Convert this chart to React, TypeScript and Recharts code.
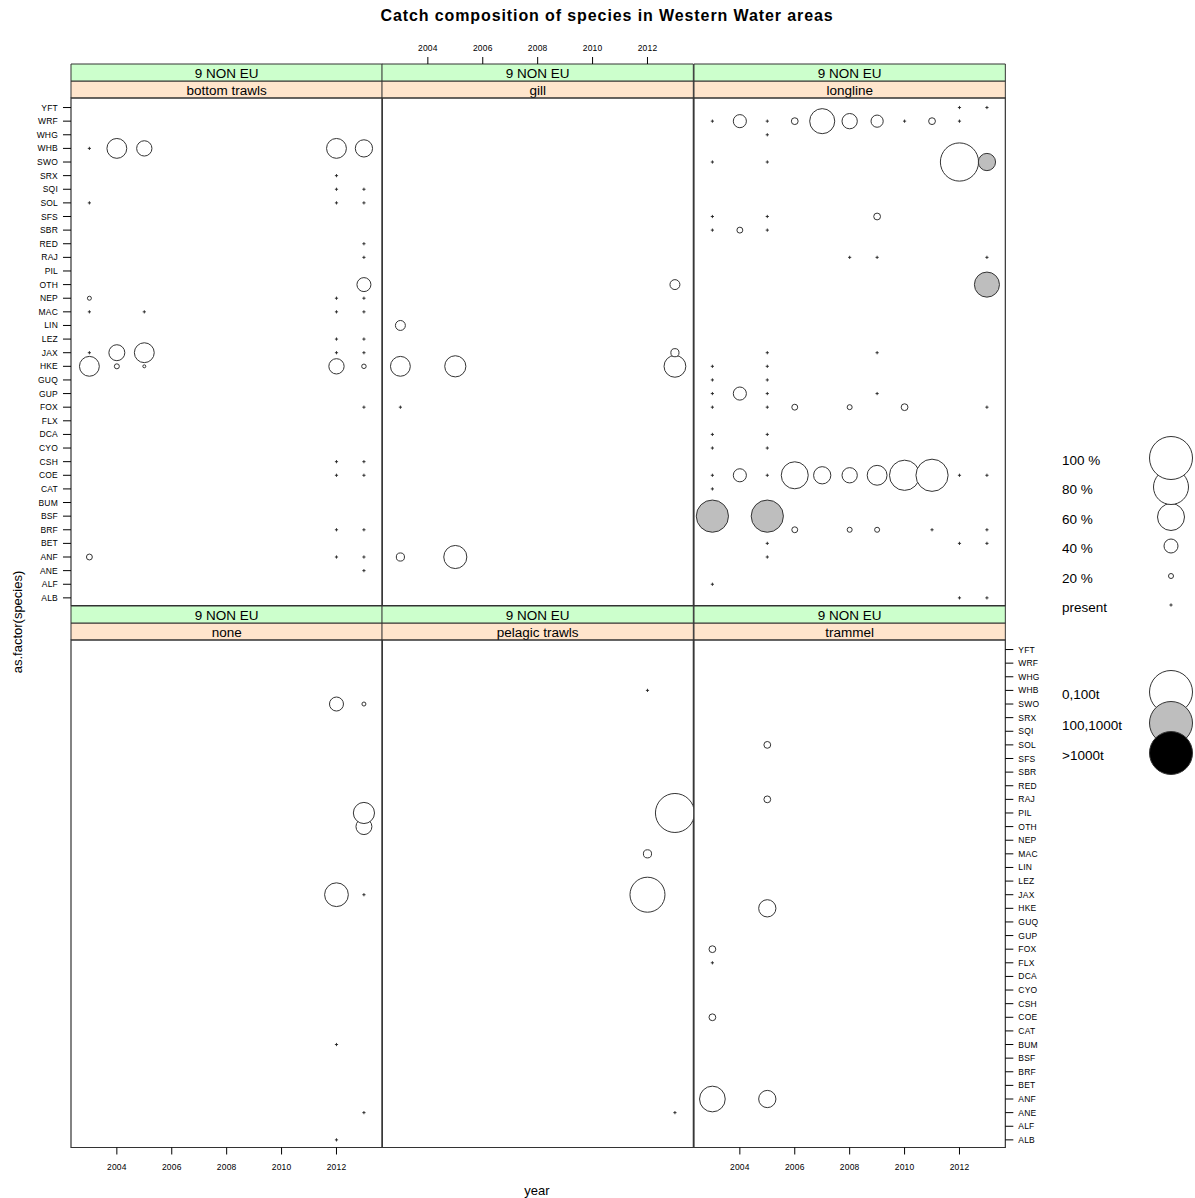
import React from 'react';
import { ScatterChart, Scatter, XAxis, YAxis, ReferenceArea } from 'recharts';

// species codes, bottom (1) to top (37)
const species = [
  'ALB', 'ALF', 'ANE', 'ANF', 'BET', 'BRF', 'BSF', 'BUM', 'CAT', 'COE', 'CSH', 'CYO', 'DCA',
  'FLX', 'FOX', 'GUP', 'GUQ', 'HKE', 'JAX', 'LEZ', 'LIN', 'MAC', 'NEP', 'OTH', 'PIL', 'RAJ',
  'RED', 'SBR', 'SFS', 'SOL', 'SQI', 'SRX', 'SWO', 'WHB', 'WHG', 'WRF', 'YFT',
];
const yearTicks = [2004, 2006, 2008, 2010, 2012];
const region = '9 NON EU';
const sizeLegend = [100, 80, 60, 40, 20];
const catchClasses = ['0,100t', '100,1000t', '>1000t'];

// [species, year, share of catch in %, catch class]  (share 0 = present)
type Obs = [string, number, number, number];

const bottomTrawls: Obs[] = [
  ['WHB', 2003, 0, 0], ['WHB', 2004, 49, 0], ['WHB', 2005, 42, 0], ['WHB', 2012, 49, 0], ['WHB', 2013, 45, 0],
  ['SRX', 2012, 0, 0],
  ['SQI', 2012, 0, 0], ['SQI', 2013, 0, 0],
  ['SOL', 2003, 0, 0], ['SOL', 2012, 0, 0], ['SOL', 2013, 0, 0],
  ['RED', 2013, 0, 0],
  ['RAJ', 2013, 0, 0],
  ['OTH', 2013, 40, 0],
  ['NEP', 2003, 16, 0], ['NEP', 2012, 0, 0], ['NEP', 2013, 0, 0],
  ['MAC', 2003, 0, 0], ['MAC', 2005, 0, 0], ['MAC', 2012, 0, 0], ['MAC', 2013, 0, 0],
  ['LEZ', 2012, 0, 0], ['LEZ', 2013, 0, 0],
  ['JAX', 2003, 0, 0], ['JAX', 2004, 43, 0], ['JAX', 2005, 49, 0], ['JAX', 2012, 0, 0], ['JAX', 2013, 0, 0],
  ['HKE', 2003, 49, 0], ['HKE', 2004, 20, 0], ['HKE', 2005, 12, 0], ['HKE', 2012, 42, 0], ['HKE', 2013, 18, 0],
  ['FOX', 2013, 0, 0],
  ['CSH', 2012, 0, 0], ['CSH', 2013, 0, 0],
  ['COE', 2012, 0, 0], ['COE', 2013, 0, 0],
  ['BRF', 2012, 0, 0], ['BRF', 2013, 0, 0],
  ['ANF', 2003, 22, 0], ['ANF', 2012, 0, 0], ['ANF', 2013, 0, 0],
  ['ANE', 2013, 0, 0],
];

const gill: Obs[] = [
  ['OTH', 2013, 31, 0],
  ['LIN', 2003, 31, 0],
  ['JAX', 2013, 27, 0],
  ['HKE', 2003, 49, 0], ['HKE', 2005, 51, 0], ['HKE', 2013, 52, 0],
  ['FOX', 2003, 0, 0],
  ['ANF', 2003, 27, 0], ['ANF', 2005, 54, 0],
];

const longline: Obs[] = [
  ['YFT', 2012, 0, 0], ['YFT', 2013, 0, 0],
  ['WRF', 2003, 0, 0], ['WRF', 2004, 38, 0], ['WRF', 2005, 0, 0], ['WRF', 2006, 24, 0], ['WRF', 2007, 57, 0],
  ['WRF', 2008, 42, 0], ['WRF', 2009, 36, 0], ['WRF', 2010, 0, 0], ['WRF', 2011, 24, 0], ['WRF', 2012, 0, 0],
  ['WHG', 2005, 0, 0],
  ['SWO', 2003, 0, 0], ['SWO', 2005, 0, 0], ['SWO', 2012, 88, 0], ['SWO', 2013, 45, 1],
  ['SFS', 2003, 0, 0], ['SFS', 2005, 0, 0], ['SFS', 2009, 24, 0],
  ['SBR', 2003, 0, 0], ['SBR', 2004, 22, 0], ['SBR', 2005, 0, 0],
  ['RAJ', 2008, 0, 0], ['RAJ', 2009, 0, 0], ['RAJ', 2013, 0, 0],
  ['OTH', 2013, 57, 1],
  ['JAX', 2005, 0, 0], ['JAX', 2009, 0, 0],
  ['HKE', 2003, 0, 0], ['HKE', 2005, 0, 0],
  ['GUQ', 2003, 0, 0], ['GUQ', 2005, 0, 0],
  ['GUP', 2003, 0, 0], ['GUP', 2004, 38, 0], ['GUP', 2005, 0, 0], ['GUP', 2009, 0, 0],
  ['FOX', 2003, 0, 0], ['FOX', 2005, 0, 0], ['FOX', 2006, 22, 0], ['FOX', 2008, 20, 0], ['FOX', 2010, 24, 0], ['FOX', 2013, 0, 0],
  ['DCA', 2003, 0, 0], ['DCA', 2005, 0, 0],
  ['CYO', 2003, 0, 0], ['CYO', 2005, 0, 0],
  ['COE', 2003, 0, 0], ['COE', 2004, 38, 0], ['COE', 2005, 0, 0], ['COE', 2006, 60, 0], ['COE', 2007, 45, 0],
  ['COE', 2008, 42, 0], ['COE', 2009, 49, 0], ['COE', 2010, 68, 0], ['COE', 2011, 73, 0], ['COE', 2012, 0, 0], ['COE', 2013, 0, 0],
  ['CAT', 2003, 0, 0],
  ['BSF', 2003, 73, 1], ['BSF', 2005, 73, 1],
  ['BRF', 2006, 22, 0], ['BRF', 2008, 20, 0], ['BRF', 2009, 20, 0], ['BRF', 2011, 0, 0], ['BRF', 2013, 0, 0],
  ['BET', 2005, 0, 0], ['BET', 2012, 0, 0], ['BET', 2013, 0, 0],
  ['ANF', 2005, 0, 0],
  ['ALF', 2003, 0, 0],
  ['ALB', 2012, 0, 0], ['ALB', 2013, 0, 0],
];

const noGear: Obs[] = [
  ['SWO', 2012, 40, 0], ['SWO', 2013, 16, 0],
  ['PIL', 2013, 51, 0],
  ['OTH', 2013, 43, 0],
  ['JAX', 2012, 55, 0], ['JAX', 2013, 0, 0],
  ['BUM', 2012, 0, 0],
  ['ANE', 2013, 0, 0],
  ['ALB', 2012, 0, 0],
];

const pelagicTrawls: Obs[] = [
  ['WHB', 2012, 0, 0],
  ['PIL', 2013, 90, 0],
  ['MAC', 2012, 27, 0],
  ['JAX', 2012, 80, 0],
  ['ANE', 2013, 0, 0],
];

const trammel: Obs[] = [
  ['SOL', 2005, 24, 0],
  ['RAJ', 2005, 24, 0],
  ['HKE', 2005, 45, 0],
  ['FOX', 2003, 24, 0],
  ['FLX', 2003, 0, 0],
  ['COE', 2003, 24, 0],
  ['ANF', 2003, 58, 0], ['ANF', 2005, 45, 0],
];

const panels = [
  { gear: 'bottom trawls', data: bottomTrawls, col: 0, row: 0 },
  { gear: 'gill', data: gill, col: 1, row: 0 },
  { gear: 'longline', data: longline, col: 2, row: 0 },
  { gear: 'none', data: noGear, col: 0, row: 1 },
  { gear: 'pelagic trawls', data: pelagicTrawls, col: 1, row: 1 },
  { gear: 'trammel', data: trammel, col: 2, row: 1 },
];

// layout
const FONT = '"Liberation Sans", Arial, sans-serif';
const COL_X = [71, 382.33, 693.67];
const PW = 311.33;
const ROW_Y = [64, 606];
const ROW_H = 541.5;
const STRIP = 17;
const PAD = 60;
const XMIN = 2002.33;
const XMAX = 2013.67;
const YMIN = 0.44;
const PANEL_TOP = 37.7;
const UNIT = (ROW_H - 2 * STRIP) / (PANEL_TOP - YMIN);
const STRIP_U = STRIP / UNIT;
const YMAX = PANEL_TOP + 2 * STRIP_U;
const FILLS = ['#FFFFFF', '#BEBEBE', '#000000'];
const LINE = '#333333';

// symbol diameter (px) for a share, matching the legend circles
const PCT_KNOTS = [0, 20, 40, 60, 80, 100];
const DIAM_KNOTS = [0, 5, 14, 27, 35, 43];
function diameterFor(pct: number) {
  for (let i = 1; i < PCT_KNOTS.length; i++) {
    if (pct <= PCT_KNOTS[i]) {
      const t = (pct - PCT_KNOTS[i - 1]) / (PCT_KNOTS[i] - PCT_KNOTS[i - 1]);
      return DIAM_KNOTS[i - 1] + t * (DIAM_KNOTS[i] - DIAM_KNOTS[i - 1]);
    }
  }
  return DIAM_KNOTS[DIAM_KNOTS.length - 1];
}

function Present({ x, y }: { x: number; y: number }) {
  return <path d={`M${x - 1.6},${y}h3.2M${x},${y - 1.6}v3.2`} stroke="#222" strokeWidth={0.9} />;
}

const Mark = (props: any) => {
  const { cx, cy, payload } = props;
  if (cx == null || cy == null) return null;
  if (payload.pct === 0) return <Present x={cx} y={cy} />;
  return (
    <circle cx={cx} cy={cy} r={diameterFor(payload.pct) / 2} fill={FILLS[payload.cls]} stroke={LINE} strokeWidth={1} />
  );
};

// strip text sits a little low, as lattice draws it
const StripLabel = (props: any) => {
  const vb = props.viewBox || {};
  const text = props.text;
  return (
    <text
      x={vb.x + vb.width / 2}
      y={vb.y + vb.height / 2 + 6}
      textAnchor="middle"
      fontSize={13.5}
      fill="#000"
      fontFamily={FONT}
    >
      {text}
    </text>
  );
};

const speciesTicks = species.map((_, i) => i + 1);
const tickStyle = { fontSize: 8.5, fill: '#000', fontFamily: FONT, letterSpacing: 0.2 };

function Panel({ gear, data, col, row }: { gear: string; data: Obs[]; col: number; row: number }) {
  const points = data
    .map(([sp, year, pct, cls]) => ({ year, y: species.indexOf(sp) + 1, pct, cls }))
    .sort((a, b) => a.y - b.y || a.year - b.year);
  const hasY = col !== 1;
  const yLabels = (row === 0 && col === 0) || (row === 1 && col === 2);
  const xLabels = row === 0 ? col === 1 : col !== 1;
  const margin = {
    top: row === 0 ? 0 : PAD,
    bottom: row === 1 ? 0 : PAD,
    left: col === 0 ? 0 : PAD,
    right: col === 2 ? 0 : PAD,
  };
  return (
    <div style={{ position: 'absolute', left: COL_X[col] - PAD, top: ROW_Y[row] - PAD }}>
      <ScatterChart width={PW + 2 * PAD} height={ROW_H + 2 * PAD} margin={margin}>
        <XAxis
          type="number"
          dataKey="year"
          domain={[XMIN, XMAX]}
          ticks={yearTicks}
          interval={0}
          allowDataOverflow
          orientation={row === 0 ? 'top' : 'bottom'}
          height={PAD}
          axisLine={false}
          tickSize={7}
          tickMargin={row === 0 ? 6 : 9}
          tickLine={{ stroke: '#000' }}
          tick={xLabels ? tickStyle : false}
        />
        <YAxis
          type="number"
          dataKey="y"
          domain={[YMIN, YMAX]}
          ticks={speciesTicks}
          interval={0}
          allowDataOverflow
          hide={!hasY}
          orientation={col === 2 ? 'right' : 'left'}
          width={PAD}
          axisLine={false}
          tickSize={8}
          tickMargin={5}
          tickLine={{ stroke: '#000' }}
          tickFormatter={(v: number) => species[v - 1] ?? ''}
          tick={yLabels ? tickStyle : false}
        />
        <ReferenceArea
          x1={XMIN}
          x2={XMAX}
          y1={PANEL_TOP}
          y2={PANEL_TOP + STRIP_U}
          ifOverflow="visible"
          fill="#FFE5CC"
          fillOpacity={1}
          stroke={LINE}
          label={<StripLabel text={gear} />}
        />
        <ReferenceArea
          x1={XMIN}
          x2={XMAX}
          y1={PANEL_TOP + STRIP_U}
          y2={YMAX}
          ifOverflow="visible"
          fill="#CCFFCC"
          fillOpacity={1}
          stroke={LINE}
          label={<StripLabel text={region} />}
        />
        <ReferenceArea
          x1={XMIN}
          x2={XMAX}
          y1={YMIN}
          y2={PANEL_TOP}
          ifOverflow="visible"
          fill="none"
          stroke={LINE}
          strokeWidth={1.2}
        />
        <Scatter data={points} shape={Mark} isAnimationActive={false} />
      </ScatterChart>
    </div>
  );
}

const LEG_X = 1062;
const LEG_CX = 1171;
const sizeRowsY = [460, 489, 519, 548, 578, 607];
const classRowsY = [694, 725, 755];

function Overlay() {
  const sizes = [...sizeLegend, 0];
  return (
    <svg width={1195} height={1198} style={{ position: 'absolute', left: 0, top: 0 }} fontFamily={FONT}>
      <text x={607} y={21} textAnchor="middle" fontSize={16} fontWeight="bold" letterSpacing={0.9} fill="#000">
        Catch composition of species in Western Water areas
      </text>
      <text x={22} y={622} textAnchor="middle" fontSize={13} fill="#000" transform="rotate(-90 22 622)">
        as.factor(species)
      </text>
      <text x={537} y={1195} textAnchor="middle" fontSize={13} fill="#000">
        year
      </text>
      {sizes.map((p, i) => (
        <text key={'l' + i} x={LEG_X} y={sizeRowsY[i] + 5} fontSize={13.5} fill="#000">
          {p === 0 ? 'present' : `${p} %`}
        </text>
      ))}
      {sizes
        .map((p, i) => ({ p, i }))
        .reverse()
        .map(({ p, i }) =>
          p === 0 ? (
            <Present key={'c' + i} x={LEG_CX} y={sizeRowsY[i] - 2} />
          ) : (
            <circle key={'c' + i} cx={LEG_CX} cy={sizeRowsY[i] - 2} r={diameterFor(p) / 2} fill="#fff" stroke={LINE} />
          )
        )}
      {catchClasses.map((c, i) => (
        <text key={'t' + i} x={LEG_X} y={classRowsY[i] + 5} fontSize={13.5} fill="#000">
          {c}
        </text>
      ))}
      {catchClasses.map((c, i) => (
        <circle key={'f' + i} cx={LEG_CX} cy={classRowsY[i] - 2} r={diameterFor(100) / 2} fill={FILLS[i]} stroke={LINE} />
      ))}
    </svg>
  );
}

export default function App() {
  return (
    <div style={{ position: 'absolute', left: 0, top: 0, width: 1195, height: 1198, background: '#fff', overflow: 'hidden' }}>
      <Overlay />
      {panels.map((p) => (
        <Panel key={p.gear} gear={p.gear} data={p.data} col={p.col} row={p.row} />
      ))}
    </div>
  );
}
